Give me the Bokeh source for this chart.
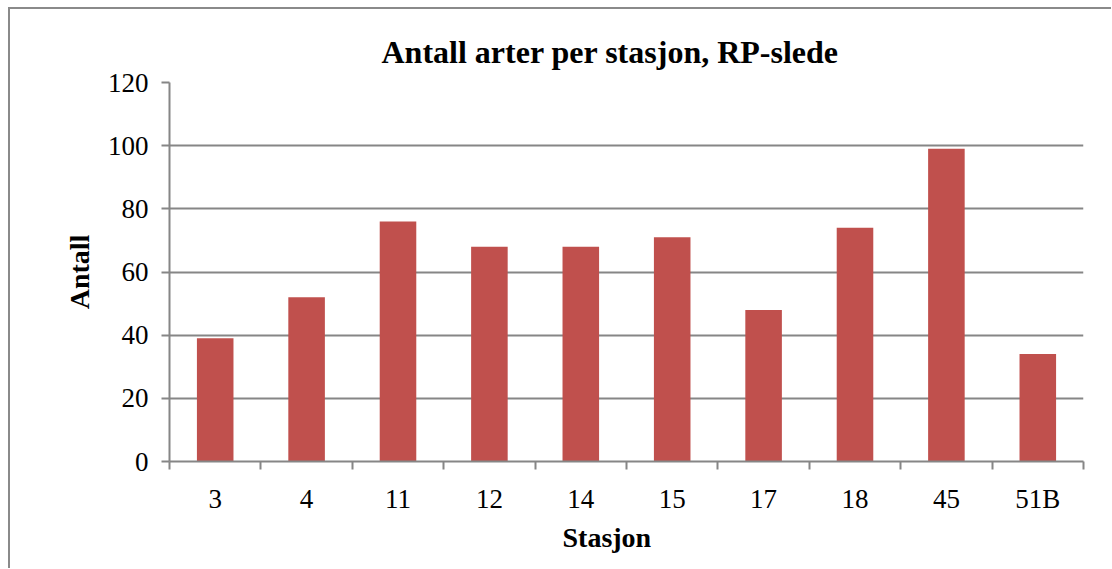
from bokeh.plotting import figure
from bokeh.models import Title, FixedTicker, Range1d
from bokeh.embed import file_html
from bokeh.resources import INLINE

stations = ["3", "4", "11", "12", "14", "15", "17", "18", "45", "51B"]
counts = [39, 52, 76, 68, 68, 71, 48, 74, 99, 34]
y_ticks = [0, 20, 40, 60, 80, 100, 120]

FONT = "Liberation Serif"
GREY = "#868686"

n = len(stations)
centers = [i + 0.5 for i in range(n)]
bounds = [float(i) for i in range(n + 1)]

p = figure(x_range=Range1d(0, n), y_range=Range1d(0, 120),
           frame_width=914, frame_height=379,
           min_border_left=159, min_border_top=73, min_border_right=28, min_border_bottom=107,
           output_backend="svg", toolbar_location=None)
p.styles = {"border-left": "2px solid #8a8a8a", "border-top": "2px solid #8a8a8a",
            "margin-left": "8px", "margin-top": "7px"}

p.vbar(x=centers, top=counts, width=0.4, fill_color="#C0504D", line_color=None)

p.title.text = "Antall arter per stasjon, RP-slede"
p.title.text_font = FONT
p.title.text_font_size = "32px"
p.title.text_font_style = "bold"
p.title.text_color = "black"
p.title.align = "left"
p.title.offset = 212
p.title.standoff = 26

xt = Title(text="Stasjon", text_font=FONT, text_font_size="28px", text_font_style="bold",
           text_color="black", align="left", offset=393, standoff=6)
p.add_layout(xt, "below")

p.outline_line_color = None
p.background_fill_color = "white"
p.border_fill_color = "white"

p.xgrid.grid_line_color = None
p.ygrid.grid_line_color = GREY
p.ygrid.grid_line_width = 2
p.yaxis.ticker = FixedTicker(ticks=y_ticks)
p.xaxis.ticker = FixedTicker(ticks=centers, minor_ticks=bounds)
p.xaxis.major_label_overrides = {c: s for c, s in zip(centers, stations)}
p.yaxis.axis_label = "Antall"
p.yaxis.axis_label_text_font = FONT
p.yaxis.axis_label_text_font_size = "28px"
p.yaxis.axis_label_text_font_style = "bold"
p.yaxis.axis_label_text_color = "black"
p.yaxis.axis_label_standoff = 10

for ax in (p.xaxis, p.yaxis):
    ax.axis_line_color = GREY
    ax.axis_line_width = 2
    ax.major_tick_line_color = GREY
    ax.major_tick_line_width = 2
    ax.major_tick_out = 8
    ax.major_tick_in = 0
    ax.minor_tick_line_color = None
    ax.major_label_text_font = FONT
    ax.major_label_text_font_size = "27px"
    ax.major_label_text_color = "black"

p.yaxis.major_label_standoff = 13
p.xaxis.major_label_standoff = 14
p.xaxis.major_tick_line_color = None
p.xaxis.minor_tick_line_color = GREY
p.xaxis.minor_tick_line_width = 2
p.xaxis.minor_tick_out = 8
p.xaxis.minor_tick_in = 0

open("out.html", "w").write(file_html(p, INLINE))
